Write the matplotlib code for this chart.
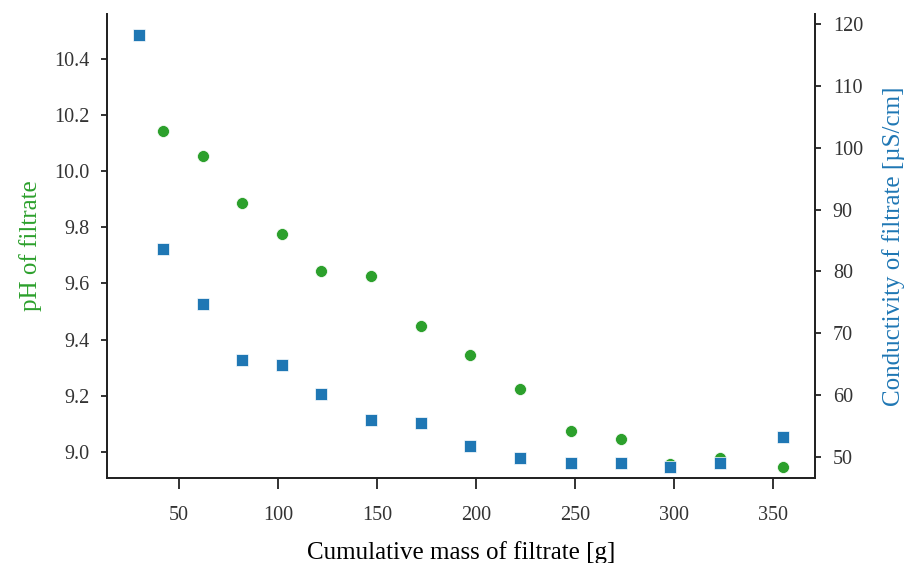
import numpy as np
import matplotlib
matplotlib.use('Agg')
import matplotlib.pyplot as plt

# дані
mass_ph = [42, 62, 82, 102, 122, 147, 172, 197, 222, 248, 273, 298, 323, 355]
ph = [10.145, 10.055, 9.887, 9.776, 9.646, 9.627, 9.447, 9.346, 9.225, 9.076,
      9.046, 8.958, 8.978, 8.946]

mass_cond = [30, 42, 62, 82, 102, 122, 147, 172, 197, 222, 248, 273, 298, 323, 355]
cond = [118.2, 83.6, 74.8, 65.7, 64.9, 60.2, 56.0, 55.5, 51.8, 49.9, 49.1, 49.1,
        48.3, 49.0, 53.3]

plt.rcParams['font.family'] = ['Liberation Serif', 'DejaVu Serif']

fig = plt.figure(figsize=(9.06, 5.63), dpi=100)
ax1 = fig.add_axes([0.118, 0.151, 0.782, 0.824])
ax2 = ax1.twinx()

green = '#2ca02c'
blue = '#1f77b4'

ax1.plot(mass_ph, ph, 'o', color=green, markersize=8.6, markeredgecolor='white',
         markeredgewidth=0.5, zorder=3)
ax2.plot(mass_cond, cond, 's', color=blue, markersize=8.6, markeredgecolor='white',
         markeredgewidth=0.5, zorder=3)

ax1.set_ylim(8.907, 10.56)
ax1.set_yticks(np.arange(9.0, 10.41, 0.2))
ax2.set_ylim(46.6, 121.6)
ax2.set_yticks(np.arange(50, 121, 10))
ax1.set_xticks(np.arange(50, 351, 50))

ax1.set_xlabel('Cumulative mass of filtrate [g]', fontsize=18, labelpad=12)
ax1.set_ylabel('pH of filtrate', color=green, fontsize=18, labelpad=9)
ax2.set_ylabel('Conductivity of filtrate [µS/cm]', color=blue, fontsize=18, labelpad=14)

for ax in (ax1, ax2):
    ax.spines['top'].set_visible(False)
    for s in ax.spines.values():
        s.set_linewidth(1.3)
        s.set_color('#222222')
    ax.tick_params(labelsize=14.5, length=4.5, width=1.3, color='#222222',
                   labelcolor='#333333', pad=8)
ax1.tick_params(axis='x', length=8, pad=12)

fig.savefig('out.png', dpi=100)
